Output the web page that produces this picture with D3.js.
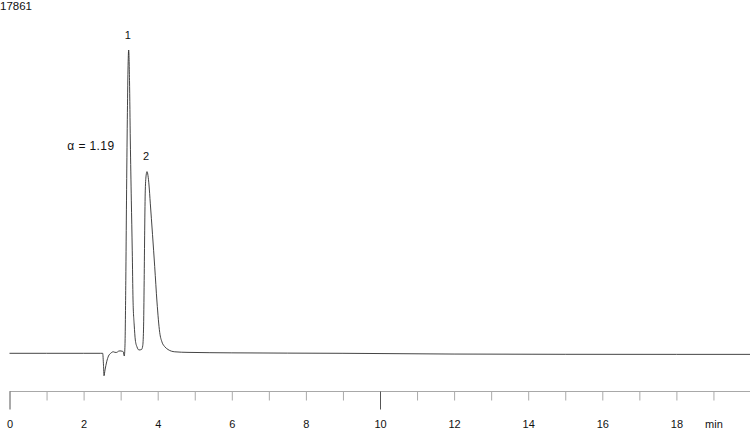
<!DOCTYPE html>
<html>
<head>
<meta charset="utf-8">
<script src="https://cdn.jsdelivr.net/npm/d3@7"></script>
<style>
  html, body { margin: 0; padding: 0; background: #fff; }
  svg { display: block; font-family: "Liberation Sans", Arial, Helvetica, sans-serif; }
</style>
</head>
<body>
<svg id="chart" width="750" height="430"></svg>
<script>
// ---- data ----
const times = [0, 1, 2, 2.45, 2.515, 2.537, 2.551, 2.578, 2.623, 2.672, 2.731, 2.802, 2.848, 2.893, 2.942,
  2.982, 3.036, 3.071, 3.098, 3.117, 3.139, 3.158, 3.180, 3.198, 3.217, 3.239, 3.261, 3.288, 3.313, 3.334,
  3.366, 3.396, 3.441, 3.495, 3.563, 3.595, 3.617, 3.635, 3.649, 3.665, 3.689, 3.711, 3.738, 3.765, 3.800,
  3.860, 3.919, 3.981, 4.054, 4.116, 4.189, 4.278, 4.459, 4.818, 6, 9, 12, 15, 18, 20];
const signal = [0, 0, 0, 0, 0, -3.9, -7.4, -5.5, -2.8, -0.9, 0, 0.5, 0.3, 0.3, 0.7,
  0.8, 0.7, 0.5, -0.9, 2.7, 24, 50.5, 77, 93.4, 100, 90, 70, 50.5, 34, 17.6,
  9.3, 4.4, 2.1, 1.1, 1.25, 2.4, 7.7, 24, 40.6, 53.8, 58.8, 59.9, 58.6, 55.5, 49.5,
  39.2, 28.6, 16.9, 6.9, 3.7, 2.2, 1.25, 0.5, 0.3, 0.15, 0, -0.25, -0.33, -0.35, -0.35];
const tickMinutes = d3.range(0, 20);
const tickLabels = ["0", "", "2", "", "4", "", "6", "", "8", "", "10", "", "12", "", "14", "", "16", "", "18", "min"];
const longTicks = [0, 10];
const peakLabels = ["1", "2"];
const peakTimes = [3.217, 3.711];
const peakSignals = [100, 59.9];
const fullScaleLabel = "17861";
const alphaLabel = "α = 1.19";

// ---- scales ----
const svg = d3.select("#chart");
const x = d3.scaleLinear().domain([0, 20]).range([9.5, 750.5]);
const y = d3.scaleLinear().domain([0, 100]).range([353.3, 50]);
const axisY = 391.5;

// ---- trace ----
const pts = times.map((t, i) => [t, signal[i]]);
const line = d3.line().x(d => x(d[0])).y(d => y(d[1])).curve(d3.curveMonotoneX);
svg.append("path")
  .datum(pts)
  .attr("d", line)
  .attr("fill", "none")
  .attr("stroke", "#222")
  .attr("stroke-width", 0.85)
  .attr("stroke-linejoin", "round");

// ---- axis ----
const axis = d3.axisBottom(x)
  .tickValues(tickMinutes)
  .tickSizeInner(9)
  .tickSizeOuter(0)
  .tickFormat((d, i) => tickLabels[i]);
const g = svg.append("g").attr("transform", `translate(0,${axisY})`).call(axis);
g.select(".domain").attr("stroke", "#a8a8a8").attr("stroke-width", 1)
  .attr("d", `M${x(0)},0H750`);
g.selectAll(".tick line")
  .attr("stroke", d => longTicks.includes(d) ? "#555" : "#aaa")
  .attr("y2", d => longTicks.includes(d) ? 18 : 9);
g.selectAll(".tick text")
  .attr("y", 36).attr("dy", 0)
  .attr("fill", "#111")
  .style("font-size", "11px")
  .style("font-family", "\"Liberation Sans\", Arial, sans-serif");

// ---- annotations ----
svg.append("text").attr("x", 0).attr("y", 10)
  .style("font-size", "11.5px").attr("fill", "#111").text(fullScaleLabel);
svg.selectAll(".plabel").data(peakLabels).enter().append("text")
  .attr("class", "plabel")
  .attr("x", (d, i) => x(peakTimes[i]) - 1)
  .attr("y", (d, i) => y(peakSignals[i]) - 11.5)
  .attr("text-anchor", "middle")
  .style("font-size", "11px").attr("fill", "#111")
  .text(d => d);
svg.append("text").attr("x", 114.5).attr("y", 149.5)
  .attr("text-anchor", "end")
  .style("font-size", "12px").style("letter-spacing", "0.4px").attr("fill", "#111")
  .text(alphaLabel);
</script>
</body>
</html>
